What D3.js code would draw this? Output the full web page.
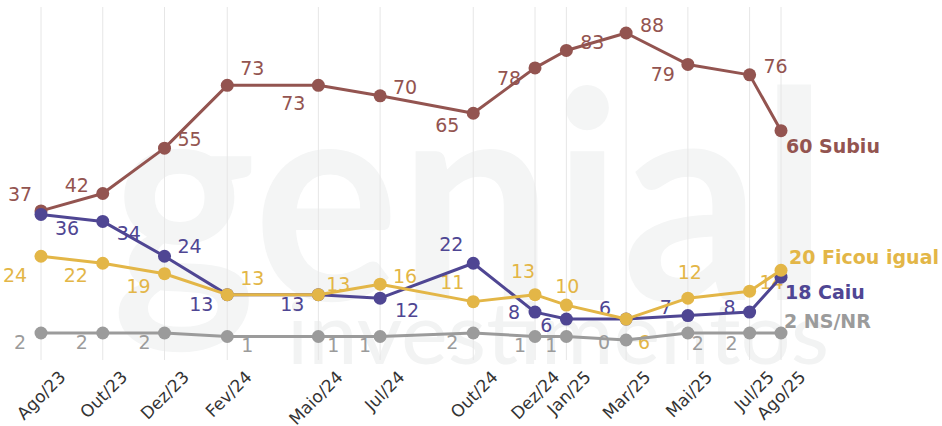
<!DOCTYPE html>
<html><head><meta charset="utf-8">
<script src="https://cdn.jsdelivr.net/npm/d3@7"></script>
<style>body{margin:0;background:#fff}svg{display:block}text{font-family:"DejaVu Sans",sans-serif}</style>
</head><body><svg id="c" width="942" height="426"></svg>
<script>
const dates = ["2023-08-15","2023-10-15","2023-12-15","2024-02-15","2024-05-15","2024-07-15","2024-10-15","2024-12-15","2025-01-15","2025-03-15","2025-05-15","2025-07-15","2025-08-15"];
const tickLabels = ["Ago/23","Out/23","Dez/23","Fev/24","Maio/24","Jul/24","Out/24","Dez/24","Jan/25","Mar/25","Mai/25","Jul/25","Ago/25"];
const subiu = [37,42,55,73,73,70,65,78,83,88,79,76,60];
const caiu = [36,34,24,13,13,12,22,8,6,6,7,8,18];
const ficou = [24,22,19,13,13,16,11,13,10,6,12,14,20];
const nsnr = [2,2,2,1,1,1,2,1,1,0,2,2,2];
const seriesNames = ["NS/NR","Subiu","Caiu","Ficou igual"];

// label placement (relative offsets of value label centres)
const offSubiu = [[-21,-17],[-26,-8],[25,-9],[25,-17],[-25,18],[25,-9],[-26,12],[-26,10],[26,-8],[26,-8],[-25,10],[26,-9]];
const offCaiu  = [[26,14],[26,12],[25,-10],[-26,10],[-26,10],[27,12],[-22,-19],[-21,0],[-20,6],[-21,-11],[-22,-8],[-20,-5]];
const offFicou = [[-26,19],[-27,12],[-26,12],[25,-16],[20,-10],[25,-8],[-21,-19],[-12,-23],[1,-19],[18,23],[2,-26],[22,-9]];
const offNs    = [[-21,9],[-21,9],[-20,9],[20,9],[15,9],[-15,9],[-21,9],[-15,9],[-15,9],[-22,2],[10,10],[-18,10]];

const colors = {"NS/NR":"#9b9b9b","Subiu":"#935450","Caiu":"#4f4693","Ficou igual":"#e3b647"};

const svg = d3.select("#c");
const parse = d3.timeParse("%Y-%m-%d");
const ds = dates.map(parse);
const x = d3.scaleTime().domain([ds[0], ds[ds.length-1]]).range([41, 781]);
const y = d3.scaleLinear().domain([0, 88]).range([340, 33]);

// watermark
const wm = svg.append("g");
wm.append("text").attr("x",112).attr("y",300).attr("font-size",290).attr("font-weight",700)
  .attr("textLength",716).attr("lengthAdjust","spacingAndGlyphs").attr("fill","#f4f5f5")
  .style("font-family","Lato, sans-serif").text("genial");
wm.append("text").attr("x",287).attr("y",364).attr("font-size",86).attr("font-weight",400)
  .attr("textLength",542).attr("lengthAdjust","spacingAndGlyphs").attr("fill","#f2f3f3")
  .style("font-family","Lato, sans-serif").text("investimentos");

// grid
svg.append("g").selectAll("line").data(ds).join("line")
  .attr("x1",d=>x(d)).attr("x2",d=>x(d)).attr("y1",7).attr("y2",360)
  .attr("stroke","#e6e6e6").attr("stroke-width",1);

// x axis
const ax = svg.append("g").attr("transform","translate(0,360)")
  .call(d3.axisBottom(x).tickValues(ds).tickFormat((d,i)=>tickLabels[i]).tickSize(0));
ax.select(".domain").remove();
ax.selectAll("text").attr("font-size",17).attr("fill","#333")
  .style("font-family","\"DejaVu Sans\", sans-serif")
  .attr("text-anchor","end").attr("dy",0).attr("dx",0)
  .attr("transform","translate(23,16) rotate(-45)");

const all = [
  {name:"NS/NR", vals:nsnr, off:offNs, end:[3,-5]},
  {name:"Subiu", vals:subiu, off:offSubiu, end:[5,22]},
  {name:"Caiu", vals:caiu, off:offCaiu, end:[4,22]},
  {name:"Ficou igual", vals:ficou, off:offFicou, end:[8,-6]}
];
all.forEach(s=>{ s.pts = s.vals.map((v,i)=>({date:ds[i], v})); });

// value labels (drawn beneath the lines)
all.forEach(s=>{
  const c = colors[s.name];
  const g = svg.append("g");
  s.pts.slice(0,-1).forEach((d,i)=>{
    g.append("text").attr("x",x(d.date)+s.off[i][0]).attr("y",y(d.v)+s.off[i][1]).attr("dy","0.36em")
      .attr("text-anchor","middle").attr("font-size",19).attr("fill",c).text(d.v);
  });
  const last = s.pts[s.pts.length-1];
  g.append("text").attr("x",x(last.date)+s.end[0]).attr("y",y(last.v)+s.end[1])
    .attr("font-size",19).attr("font-weight",700).attr("fill",c).text(last.v+" "+s.name);
});

const line = d3.line().x(d=>x(d.date)).y(d=>y(d.v));
all.forEach(s=>{
  const g = svg.append("g");
  const c = colors[s.name];
  g.append("path").attr("d",line(s.pts)).attr("fill","none").attr("stroke",c).attr("stroke-width",3).attr("stroke-linejoin","round");
  g.selectAll("circle").data(s.pts).join("circle").attr("cx",d=>x(d.date)).attr("cy",d=>y(d.v)).attr("r",6.5).attr("fill",c);
});
</script></body></html>
